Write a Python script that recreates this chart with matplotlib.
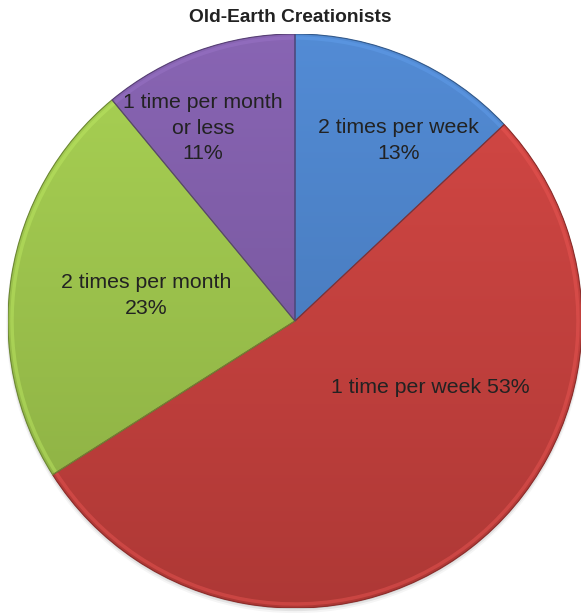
import numpy as np
import matplotlib
matplotlib.use("Agg")
import matplotlib.pyplot as plt
from matplotlib.patches import Wedge, Circle
from matplotlib.colors import to_rgb

plt.rcParams['font.family'] = ['Liberation Sans', 'DejaVu Sans']

title = "Old-Earth Creationists"
categories = ["2 times per week", "1 time per week", "2 times per month", "1 time per month\nor less"]
shares = [13, 53, 23, 11]
label_text = ["2 times per week\n13%", "1 time per week 53%", "2 times per month\n23%",
              "1 time per month\nor less\n11%"]

colors = ["#4A80C6", "#C6403D", "#9CC34B", "#7D5BA6"]
# label anchor points in pie units (x, y)
label_pos = [(0.36, 0.63), (0.47, -0.23), (-0.52, 0.09), (-0.32, 0.672)]

W, H = 581, 613
fig = plt.figure(figsize=(W / 100, H / 100), dpi=100)
cx, cy, r = 295, 321, 287
ax = fig.add_axes([(cx - r) / W, (H - cy - r) / H, 2 * r / W, 2 * r / H])

wedges, _ = ax.pie(shares, startangle=90, counterclock=False, radius=1.0,
                   colors=colors, wedgeprops=dict(edgecolor='none'))
ax.set_xlim(-1, 1)
ax.set_ylim(-1, 1)
ax.set_aspect('equal')
ax.axis('off')

# faint drop shadow below the pie
for k, a in enumerate([0.10, 0.07, 0.04]):
    ax.add_patch(Circle((0.0, -0.004 * (k + 1)), 1.0 + 0.003 * k, facecolor='black',
                        edgecolor='none', alpha=a, zorder=0.5, clip_on=False))

# vertical shading inside every wedge: lighter at the top, darker at the bottom
t = np.linspace(1, 0, 256)[:, None, None]
for w, c in zip(wedges, colors):
    base = np.array(to_rgb(c))
    light = np.clip(base * 1.05 + 0.02, 0, 1)
    dark = base * 0.88
    img = light[None, None, :] * t + dark[None, None, :] * (1 - t)
    img = np.repeat(img, 4, axis=1)
    im = ax.imshow(img, extent=(-1, 1, -1, 1), origin='upper', zorder=w.get_zorder() + 0.1,
                   interpolation='bilinear', aspect='auto')
    im.set_clip_path(w)
    # soft bevel along the outer rim
    ax.add_patch(Wedge(w.center, w.r - 0.008, w.theta1, w.theta2, width=0.012,
                       facecolor=tuple(np.clip(base * 1.12 + 0.06, 0, 1)), edgecolor='none',
                       alpha=0.45, zorder=w.get_zorder() + 0.15))
    ax.add_patch(Wedge(w.center, w.r, w.theta1, w.theta2,
                       facecolor='none', edgecolor=tuple(base * 0.7),
                       linewidth=0.8, zorder=w.get_zorder() + 0.2))

for (x, y), txt in zip(label_pos, label_text):
    ax.text(x, y, txt, ha='center', va='center', fontsize=15.3, color='#222222',
            linespacing=1.45, zorder=10)

fig.text(0.5, 1 - 17 / H, title, ha='center', va='center', fontsize=13.8, fontweight='bold',
         color='#222222')

fig.savefig("out.png", dpi=100, facecolor='white')
